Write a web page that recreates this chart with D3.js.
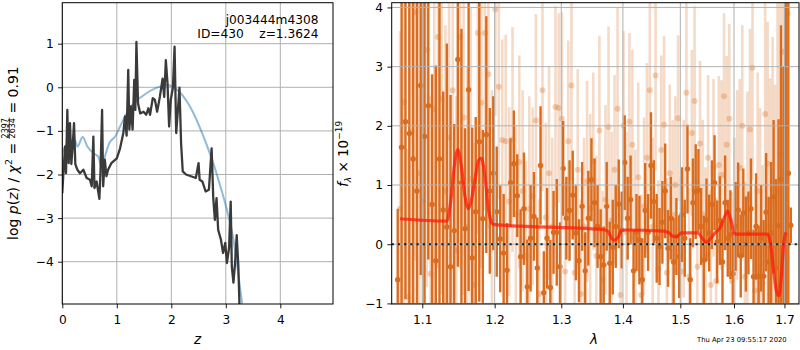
<!DOCTYPE html>
<html><head><meta charset="utf-8">
<script src="https://cdn.jsdelivr.net/npm/d3@7"></script>
<style>
body{margin:0;background:#fff}
svg{display:block;font-family:"DejaVu Sans",sans-serif}
</style>
</head><body>
<svg id="c" width="800" height="350"></svg>
<script>
// ---------------- data: left panel (redshift PDF) ----------------
const zPdf = [0,0.02,0.05,0.068,0.092,0.117,0.141,0.166,0.19,0.215,0.239,0.276,0.325,0.386,0.447,0.508,0.54,0.57,0.59,0.63,0.68,0.70,0.73,0.75,0.78,0.81,0.84,0.90,1.0,1.06,1.12,1.15,1.18,1.21,1.23,1.26,1.29,1.32,1.34,1.36,1.39,1.43,1.49,1.54,1.58,1.61,1.66,1.70,1.74,1.79,1.84,1.87,1.90,1.93,1.96,1.99,2.03,2.06,2.09,2.13,2.15,2.18,2.21,2.27,2.36,2.45,2.50,2.52,2.57,2.63,2.69,2.74,2.77,2.80,2.83,2.86,2.91,2.95,2.99,3.02,3.06,3.09,3.11,3.14,3.17,3.20,3.23,3.25,3.28];
const logPdf = [-2.43,-1.97,-1.36,-1.97,-0.52,-1.74,-0.82,-1.76,-1.36,-0.82,-1.76,-1.89,-1.97,-1.89,-2.08,-2.12,-2.27,-1.13,-2.31,-2.16,-2.56,-1.97,-0.52,-2.27,-1.66,-2.04,-1.89,-1.74,-1.63,-1.40,-1.05,-0.67,-1.11,0.40,-0.97,-0.44,-0.97,0.17,-0.52,1.04,-0.37,-0.6,-0.56,-0.63,-0.48,-0.63,-0.25,-0.29,-0.56,-0.22,0.2,-0.22,0.62,0.1,-0.9,-0.29,0,0.93,-1.05,-0.37,-0.01,-1.29,-1.93,-2.0,-2.04,-2.08,-1.74,-2.12,-2.16,-2.39,-2.35,-1.40,-2.54,-3.04,-2.54,-3.27,-3.49,-3.80,-3.57,-4.03,-3.68,-2.62,-4.1,-4.48,-4.03,-3.39,-4.1,-4.96,-5.6];
const zPrior = [0,0.048,0.14,0.23,0.276,0.374,0.46,0.57,0.66,0.72,0.78,0.863,0.97,1.06,1.18,1.30,1.46,1.61,1.79,1.92,2.04,2.16,2.29,2.41,2.53,2.65,2.78,2.90,3.02,3.14,3.21,3.30];
const logPrior = [-1.51,-1.36,-1.24,-1.21,-1.36,-1.14,-1.36,-1.51,-1.59,-1.82,-1.59,-1.28,-1.13,-0.9,-0.6,-0.37,-0.21,-0.085,0.015,0.05,0,-0.12,-0.33,-0.6,-0.94,-1.32,-1.78,-2.27,-2.81,-3.49,-4.1,-4.96];
const zTicks = [0,1,2,3,4];
const logTicks = [-4,-3,-2,-1,0,1];

// ---------------- data: right panel (spectrum) ----------------
const waveA = [1.068,1.073,1.078,1.083,1.088,1.093,1.098,1.103,1.108,1.113,
1.118,1.123,1.128,1.133,1.138,1.143,1.148,1.153,1.158,1.163,
1.168,1.173,1.178,1.183,1.188,1.193,1.198,1.203,1.208,1.213,
1.218,1.223,1.228,1.233,1.238,1.243,1.248,1.253,1.258,1.263,
1.268,1.273,1.278,1.283,1.288,1.293,1.298,1.303,1.308,1.313,
1.318,1.323,1.328,1.333,1.338,1.343,1.348,1.353,1.358,1.363,
1.368,1.373,1.378,1.383,1.388,1.393,1.398,1.403,1.408,1.413,
1.418,1.423,1.428,1.433,1.438,1.443,1.448,1.453,1.458,1.463,
1.468,1.473,1.478,1.483,1.488,1.493,1.498,1.503,1.508,1.513,
1.518,1.523,1.528,1.533,1.538,1.543,1.548,1.553,1.558,1.563,
1.568,1.573,1.578,1.583,1.588,1.593,1.598,1.603,1.608,1.613,
1.618,1.623,1.628,1.633,1.638,1.643,1.648,1.653,1.658,1.663,
1.668,1.673,1.678,1.683,1.688,1.693,1.698,1.703,1.708,1.713];
const fluxA = [-0.6,1.64,2.07,1.87,1.44,0.9,2.68,1.82,2.34,0.67,
-0.28,1.44,0.58,0.29,-0.38,0.23,3.12,1.04,0.26,2.61,
-0.23,0.55,1.73,0.43,1.85,0.9,1.2,0.55,0.09,-0.15,
-0.44,1.04,1.36,0.82,-0.21,0.6,-0.72,0.1,0.47,-0.4,
1.33,-0.82,0.1,-0.73,0.2,0.2,-0.38,1.28,0.44,0.57,
0.83,0.19,-0.28,0.64,-0.45,0.44,1.09,0.7,0.3,-0.21,
-0.35,0.64,-0.32,-0.05,0.3,0.68,0.24,1.38,0.44,0.75,
-0.45,0.2,0.07,-0.6,0.57,0.2,1.33,0.72,0.1,-0.04,
0.37,0.9,-0.07,0.44,-0.3,0.13,-0.21,0.5,0.1,1.27,
-0.6,0.7,0.89,0.91,0.3,-0.27,0.41,0.19,0.67,1.04,
0.04,0.4,-0.3,0.7,0.1,0.16,-0.5,0.3,0.58,-0.2,
0.53,0.0,0.19,0.6,-0.55,0.3,-0.54,0.1,-0.54,0.54,
-0.3,0.19,0.8,-0.4,0.31,1.1,-0.5,2.0,1.2,0.32];
const errA = [1.2,3.5,3.0,3.6,2.8,3.4,3.2,3.9,2.6,2.2,
3.3,3.6,2.0,3.1,2.9,1.8,3.5,2.6,1.7,3.4,
2.2,1.6,2.7,1.5,2.0,1.4,1.3,1.1,0.9,1.0,
0.8,0.75,0.9,0.7,0.8,0.95,0.8,0.9,0.75,0.85,
1.0,0.7,0.85,0.8,0.7,0.9,0.75,0.8,0.7,0.85,
0.75,0.8,0.7,0.75,0.65,0.8,0.7,0.75,0.7,0.8,
0.65,0.75,0.7,0.8,0.7,0.75,0.65,0.8,0.7,0.75,
0.7,0.65,0.75,0.7,0.8,0.65,0.9,0.7,0.75,0.65,
0.7,0.8,0.65,0.7,0.75,0.65,0.7,0.8,0.65,0.75,
0.7,0.75,0.8,0.7,0.65,0.75,0.7,0.65,0.75,0.8,
0.7,0.75,0.7,0.8,0.65,0.75,0.7,0.75,0.8,0.7,
0.75,0.8,0.7,0.85,0.8,0.9,0.85,0.9,0.95,1.0,
1.1,1.2,1.3,1.5,1.8,2.6,3.5,4.5,5.0,0.3];

const waveB = [1.071,1.076,1.081,1.086,1.091,1.096,1.101,1.106,1.111,1.116,
1.121,1.126,1.131,1.136,1.141,1.146,1.151,1.156,1.161,1.166,
1.171,1.176,1.181,1.186,1.191,1.196,1.201,1.206,1.211,1.216,
1.221,1.226,1.231,1.236,1.241,1.246,1.251,1.256,1.261,1.266,
1.271,1.276,1.281,1.286,1.291,1.296,1.301,1.306,1.311,1.316,
1.321,1.326,1.331,1.336,1.341,1.346,1.351,1.356,1.361,1.366,
1.371,1.376,1.381,1.386,1.391,1.396,1.401,1.406,1.411,1.416,
1.421,1.426,1.431,1.436,1.441,1.446,1.451,1.456,1.461,1.466,
1.471,1.476,1.481,1.486,1.491,1.496,1.501,1.506,1.511,1.516,
1.521,1.526,1.531,1.536,1.541,1.546,1.551,1.556,1.561,1.566,
1.571,1.576,1.581,1.586,1.591,1.596,1.601,1.606,1.611,1.616,
1.621,1.626,1.631,1.636,1.641,1.646,1.651,1.656,1.661,1.666,
1.671,1.676,1.681,1.686,1.691,1.696,1.701,1.706];
const fluxB = [0.6,2.4,-0.89,1.9,3.92,1.2,0.72,3.28,-0.5,2.28,
3.5,2.45,0.9,1.8,2.6,-0.1,3.5,2.14,0.3,1.1,
-0.69,3.57,2.39,3.57,2.87,0.4,3.97,2.66,1.76,1.74,
0.72,1.77,0.5,1.39,0.9,-0.2,0.6,0.81,2.09,-0.84,
2.6,0.45,1.2,0.3,2.32,2.3,2.12,-0.46,1.74,2.68,
-0.48,1.26,-0.84,0.3,1.06,0.6,1.4,-0.2,1.92,-0.6,
0.75,1.98,0.4,1.26,2.29,-0.86,2.0,0.2,2.07,1.68,
0.1,1.13,-0.86,0.64,1.46,2.6,0.3,2.85,-0.42,1.59,
2.02,-0.48,1.2,0.5,1.0,2.13,-0.46,0.6,2.56,-0.55,
1.88,2.42,-0.38,1.7,0.5,-0.2,1.46,-0.69,1.29,-0.62,
1.34,1.17,2.5,1.68,2.12,-0.62,0.4,1.0,1.29,2.0,
-0.55,0.78,1.94,2.98,-0.78,0.9,0.2,-0.66,2.2,1.36,
0.3,0.7,-0.3,0.9,1.53,3.25,1.2,3.9];
const errB = [3.0,3.6,2.5,3.8,4.2,3.1,3.4,4.0,3.0,3.6,
3.9,3.3,2.8,3.5,3.7,2.6,3.9,3.0,2.7,2.9,
2.4,3.4,2.8,3.0,2.6,2.2,1.8,1.9,1.7,1.8,
1.6,1.9,1.5,1.8,1.7,1.6,1.9,1.5,1.8,1.6,
1.7,1.6,1.8,1.5,1.7,1.6,1.8,1.5,1.7,1.6,
1.5,1.7,1.6,1.5,1.7,1.6,1.5,1.7,1.6,1.5,
1.6,1.7,1.5,1.6,1.7,1.5,1.6,1.7,1.5,1.6,
1.5,1.6,1.7,1.5,1.6,1.7,1.5,1.6,1.5,1.6,
1.5,1.6,1.5,1.6,1.5,1.4,1.6,1.5,1.6,1.5,
1.4,1.6,1.5,1.4,1.6,1.5,1.4,1.6,1.5,1.4,
1.5,1.6,1.4,1.5,1.6,1.5,1.4,1.6,1.5,1.7,
1.6,1.8,1.7,1.9,1.8,2.0,2.1,2.0,2.3,2.4,
2.5,2.8,3.0,3.4,3.8,4.2,4.8,5.0];

const modelWave = [1.071,1.133,1.138,1.143,1.148,1.153,1.158,1.1625,1.167,1.172,1.177,1.181,1.186,1.191,1.196,1.200,1.365,1.375,1.381,1.386,1.392,1.398,1.404,1.470,1.480,1.487,1.494,1.502,1.532,1.540,1.548,1.556,1.565,1.573,1.580,1.588,1.594,1.600,1.605,1.666,1.672,1.678,1.684,1.689,1.694,1.699,1.703];
const modelFlux = [0.43,0.39,0.7,1.3,1.6,1.3,0.8,0.6,0.75,1.1,1.42,1.45,1.15,0.6,0.36,0.33,0.25,0.22,0.1,0.07,0.12,0.23,0.24,0.22,0.19,0.13,0.13,0.19,0.19,0.1,0.03,0.1,0.2,0.27,0.42,0.56,0.4,0.19,0.17,0.17,0.0,-0.45,-0.8,-0.87,-0.5,0.05,0.2];
const waveTicks = [1.1,1.2,1.3,1.4,1.5,1.6,1.7];
const fluxTicks = [-1,0,1,2,3,4];

const objName = "j003444m4308";
const objInfo = "ID=430    z=1.3624";
const stamp = "Thu Apr 23 09:55:17 2020";

// ---------------- drawing ----------------
const svg = d3.select("#c");
const FS = 12.2;
const gridCol = "#b0b0b0";
const darkCol = "#d96c1e";

const L = {x0: 62.3, x1: 333, y0: 2.7, y1: 304};
const R = {x0: 391.7, x1: 799, y0: 2.7, y1: 304};

const xL = d3.scaleLinear().domain([0, 4.967]).range([L.x0, L.x1]);
const yL = d3.scaleLinear().domain([-4.97, 1.94]).range([L.y1, L.y0]);
const xR = d3.scaleLog().domain([1.0603, 1.730]).range([R.x0, R.x1]);
const yR = d3.scaleLinear().domain([-1.01, 4.08]).range([R.y1, R.y0]);

const defs = svg.append("defs");
defs.append("clipPath").attr("id","clipL").append("rect")
  .attr("x",L.x0).attr("y",L.y0).attr("width",L.x1-L.x0).attr("height",L.y1-L.y0);
defs.append("clipPath").attr("id","clipR").append("rect")
  .attr("x",R.x0).attr("y",R.y0).attr("width",R.x1-R.x0).attr("height",R.y1-R.y0);

function styleAxis(g){
  g.select(".domain").remove();
  g.selectAll(".tick line").attr("stroke","#000").attr("stroke-width",0.9);
  g.selectAll(".tick text").attr("font-size",FS).attr("fill","#000")
    .attr("font-family","DejaVu Sans");
}

// ===== Left panel =====
const gL = svg.append("g");
gL.append("g").selectAll("line").data(zTicks).join("line")
  .attr("x1",d=>xL(d)).attr("x2",d=>xL(d)).attr("y1",L.y0).attr("y2",L.y1)
  .attr("stroke",gridCol).attr("stroke-width",1);
gL.append("g").selectAll("line").data(logTicks).join("line")
  .attr("y1",d=>yL(d)).attr("y2",d=>yL(d)).attr("x1",L.x0).attr("x2",L.x1)
  .attr("stroke",gridCol).attr("stroke-width",1);

const pdfPts = zPdf.map((z,i)=>[z,logPdf[i]]);
const priorPts = zPrior.map((z,i)=>[z,logPrior[i]]);
const gLc = gL.append("g").attr("clip-path","url(#clipL)");
gLc.append("path").datum(priorPts)
  .attr("d", d3.line().x(d=>xL(d[0])).y(d=>yL(d[1])).curve(d3.curveMonotoneX))
  .attr("fill","none").attr("stroke","#1f77b4").attr("stroke-opacity",0.5).attr("stroke-width",2);
gLc.append("path").datum(pdfPts)
  .attr("d", d3.line().x(d=>xL(d[0])).y(d=>yL(d[1])))
  .attr("fill","none").attr("stroke","#3a3a3a").attr("stroke-width",2.3).attr("stroke-linejoin","round");

gL.append("g").attr("transform",`translate(0,${L.y1})`)
  .call(d3.axisBottom(xL).tickValues(zTicks).tickSize(4.3).tickPadding(7.5).tickFormat(d3.format("d")))
  .call(styleAxis);
gL.append("g").attr("transform",`translate(${L.x0},0)`)
  .call(d3.axisLeft(yL).tickValues(logTicks).tickSize(4.3).tickPadding(4.3).tickFormat(d3.format("d")))
  .call(styleAxis);
gL.append("rect").attr("x",L.x0).attr("y",L.y0).attr("width",L.x1-L.x0).attr("height",L.y1-L.y0)
  .attr("fill","none").attr("stroke","#000").attr("stroke-width",1);

gL.append("text").attr("x",318.5).attr("y",24).attr("text-anchor","end").attr("font-size",FS).text(objName);
gL.append("text").attr("x",318.5).attr("y",38.3).attr("text-anchor","end").attr("font-size",FS)
  .style("white-space","pre").text(objInfo);

gL.append("text").attr("x",(L.x0+L.x1)/2).attr("y",343.5).attr("text-anchor","middle")
  .attr("font-size",13.5).attr("font-style","italic").text("z");

// rich rotated label helper
function richLabel(g, pieces, targetLen, baseSize){
  const nodes = [];
  let x = 0;
  pieces.forEach(p=>{
    if (p.frac){
      const fs = p.size;
      const n = g.append("text").attr("font-size",fs).attr("y",p.numY).text(p.frac[0]);
      const d = g.append("text").attr("font-size",fs).attr("y",p.denY).text(p.frac[1]);
      const w = Math.max(n.node().getComputedTextLength(), d.node().getComputedTextLength());
      const ln = g.append("line").attr("y1",p.barY).attr("y2",p.barY).attr("stroke","#000").attr("stroke-width",0.7);
      nodes.push({type:"frac", n, d, ln, w, gap:p.gap||0});
    } else {
      const t = g.append("text").attr("font-size",p.size||baseSize).attr("y",p.dy||0)
        .attr("font-style",p.italic?"italic":null).style("white-space","pre").text(p.text);
      nodes.push({type:"t", t, w:t.node().getComputedTextLength(), gap:p.gap||0});
    }
  });
  const natural = d3.sum(nodes, n=>n.w);
  const nGaps = d3.sum(nodes, n=>n.gap);
  const extra = nGaps>0 ? Math.max(0,(targetLen-natural)/nGaps) : 0;
  nodes.forEach(n=>{
    x += n.gap*extra/2;
    if (n.type==="frac"){
      n.n.attr("x", x + n.w/2).attr("text-anchor","middle");
      n.d.attr("x", x + n.w/2).attr("text-anchor","middle");
      n.ln.attr("x1", x-0.5).attr("x2", x+n.w+0.5);
    } else n.t.attr("x", x);
    x += n.w + n.gap*extra/2;
  });
}

const yLab = svg.append("g").attr("transform","translate(17.5,240) rotate(-90)");
richLabel(yLab, [
  {text:"log "},
  {text:"p", italic:true},
  {text:"("},
  {text:"z", italic:true},
  {text:")"},
  {text:" / ", gap:1},
  {text:"χ", italic:true},
  {text:"2", size:9.5, dy:-6},
  {text:" = ", gap:1},
  {frac:["2397","2634"], size:8, numY:-9.6, denY:-2.4, barY:-8.2},
  {text:" = ", gap:1},
  {text:"0.91"}
], 173, 14);

// ===== Right panel =====
const gR = svg.append("g");
const gRc = gR.append("g").attr("clip-path","url(#clipR)");

const ptsA = waveA.map((w,i)=>({w, f:fluxA[i], e:errA[i]}));
const ptsB = waveB.map((w,i)=>({w, f:fluxB[i], e:errB[i]}));

// light (second spectrum)
gRc.append("g").selectAll("line").data(ptsB).join("line")
  .attr("x1",d=>xR(d.w)).attr("x2",d=>xR(d.w))
  .attr("y1",d=>yR(d.f-d.e)).attr("y2",d=>yR(d.f+d.e))
  .attr("stroke",darkCol).attr("stroke-opacity",0.25).attr("stroke-width",2.6);
gRc.append("g").selectAll("circle").data(ptsB).join("circle")
  .attr("cx",d=>xR(d.w)).attr("cy",d=>yR(d.f)).attr("r",3)
  .attr("fill",darkCol).attr("fill-opacity",0.3);

// dark (first spectrum)
gRc.append("g").selectAll("line").data(ptsA).join("line")
  .attr("x1",d=>xR(d.w)).attr("x2",d=>xR(d.w))
  .attr("y1",d=>yR(d.f-d.e)).attr("y2",d=>yR(d.f+d.e))
  .attr("stroke",darkCol).attr("stroke-width",2.4);
gRc.append("g").selectAll("circle").data(ptsA).join("circle")
  .attr("cx",d=>xR(d.w)).attr("cy",d=>yR(d.f)).attr("r",2.7)
  .attr("fill",darkCol);

// grid (on top of the bars)
gR.append("g").selectAll("line").data(waveTicks).join("line")
  .attr("x1",d=>xR(d)).attr("x2",d=>xR(d)).attr("y1",R.y0).attr("y2",R.y1)
  .attr("stroke",gridCol).attr("stroke-width",1);
gR.append("g").selectAll("line").data(fluxTicks).join("line")
  .attr("y1",d=>yR(d)).attr("y2",d=>yR(d)).attr("x1",R.x0).attr("x2",R.x1)
  .attr("stroke",gridCol).attr("stroke-width",1);

// zero line
gR.append("line").attr("x1",R.x0).attr("x2",R.x1).attr("y1",yR(0)).attr("y2",yR(0))
  .attr("stroke","#000").attr("stroke-opacity",0.85).attr("stroke-width",2).attr("stroke-dasharray","2.2,4");

// model
const modelPts = modelWave.map((w,i)=>[w, modelFlux[i]]);
gR.append("g").attr("clip-path","url(#clipR)").append("path").datum(modelPts)
  .attr("d", d3.line().x(d=>xR(d[0])).y(d=>yR(d[1])).curve(d3.curveMonotoneX))
  .attr("fill","none").attr("stroke","#ff1a0a").attr("stroke-opacity",0.75)
  .attr("stroke-width",3.2).attr("stroke-linejoin","round");

gR.append("g").attr("transform",`translate(0,${R.y1})`)
  .call(d3.axisBottom(xR).tickValues(waveTicks).tickSize(4.3).tickPadding(7.5).tickFormat(d3.format(".1f")))
  .call(styleAxis);
gR.append("g").attr("transform",`translate(${R.x0},0)`)
  .call(d3.axisLeft(yR).tickValues(fluxTicks).tickSize(4.3).tickPadding(4.3).tickFormat(d3.format("d")))
  .call(styleAxis);
gR.append("rect").attr("x",R.x0).attr("y",R.y0).attr("width",R.x1-R.x0).attr("height",R.y1-R.y0)
  .attr("fill","none").attr("stroke","#000").attr("stroke-width",1);

gR.append("text").attr("x",594).attr("y",343.5).attr("text-anchor","middle")
  .attr("font-size",13.5).attr("font-style","italic").text("λ");

const yLabR = svg.append("g").attr("transform","translate(347.5,187) rotate(-90)");
richLabel(yLabR, [
  {text:"f", italic:true},
  {text:"λ", size:9, dy:3, italic:true},
  {text:" × ", gap:1},
  {text:"10"},
  {text:"−19", size:9, dy:-6}
], 65, 13.5);

svg.append("text").attr("x",697).attr("y",342).attr("font-size",6.8).text(stamp);
</script>
</body></html>
